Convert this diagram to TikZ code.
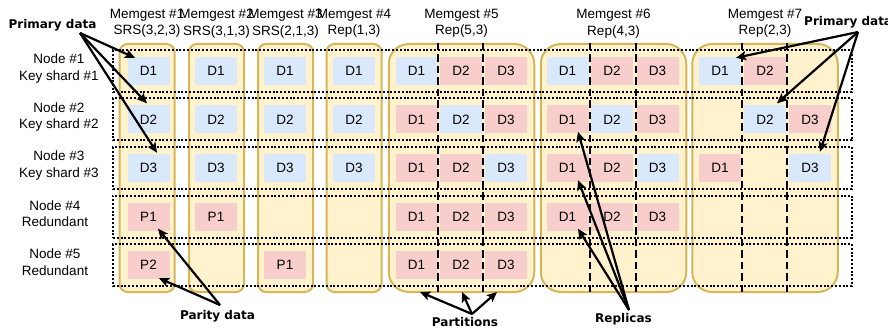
\documentclass[tikz,border=0pt]{standalone}
\usepackage{fontspec}
\setmainfont{Liberation Sans}
\newfontfamily\labelfont{DejaVu Sans}
\usetikzlibrary{arrows.meta}

\definecolor{pblue}{HTML}{DAE8FC}
\definecolor{pred}{HTML}{F8CECC}
\definecolor{cfill}{HTML}{FFF2CC}
\definecolor{cedge}{HTML}{D6B656}

\tikzset{
  txt/.style={font=\fontsize{13.5}{16.5}\selectfont, inner sep=0pt, align=center},
  note/.style={font=\labelfont\bfseries\fontsize{12}{14}\selectfont, inner sep=0pt},
  memgest/.style={draw=cedge, fill=cfill, line width=2pt, inner sep=0pt, minimum height=248pt},
  narrow/.style={memgest, minimum width=55pt, rounded corners=8pt},
  wide/.style={memgest, minimum width=145.5pt, rounded corners=20pt},
  cell/.style={txt, minimum width=42pt, minimum height=28pt},
  prim/.style={cell, fill=pblue},
  repl/.style={cell, fill=pred},
  rowbox/.style={draw=black, line width=2pt, dash pattern=on 2pt off 1.8pt,
                 minimum width=739pt, minimum height=42pt, inner sep=0pt},
  partline/.style={draw=black, line width=2.8pt, dash pattern=on 7.5pt off 4pt},
  pointer/.style={draw=black, line width=2.2pt, -{Stealth[length=10pt,width=9pt,inset=2pt]}}
}

\begin{document}
\begin{tikzpicture}[x=1pt, y=-1pt]
\useasboundingbox (0,0) rectangle (888,331);

% ---- memgest containers ----
\node[narrow] (m1) at (147,168) {};
\node[narrow] (m2) at (216.5,168) {};
\node[narrow] (m3) at (285.5,168) {};
\node[narrow] (m4) at (354,168) {};
\node[wide] (m5) at (461.5,168) {};
\node[wide] (m6) at (613.5,168) {};
\node[wide] (m7) at (765,168) {};

% ---- headers ----
\node[txt] (h1) at (147,23.5) {Memgest \#1\\SRS(3,2,3)};
\node[txt] (h2) at (216.5,23.5) {Memgest \#2\\SRS(3,1,3)};
\node[txt] (h3) at (285.5,23.5) {Memgest \#3\\SRS(2,1,3)};
\node[txt] (h4) at (354,23.5) {Memgest \#4\\Rep(1,3)};
\node[txt] (h5) at (461.5,23.5) {Memgest \#5\\Rep(5,3)};
\node[txt] (h6) at (613.5,23.5) {Memgest \#6\\Rep(4,3)};
\node[txt] (h7) at (765,23.5) {Memgest \#7\\Rep(2,3)};

% ---- node labels ----
\node[txt] (n1) at (59,68.5) {Node \#1\\Key shard \#1};
\node[txt] (n2) at (59,117) {Node \#2\\Key shard \#2};
\node[txt] (n3) at (59,165.5) {Node \#3\\Key shard \#3};
\node[txt] (n4) at (55,213.5) {Node \#4\\Redundant};
\node[txt] (n5) at (55,262) {Node \#5\\Redundant};

% ---- Memgest #1: SRS(3,2,3) ----
\node[prim] (c11) at (148.5,71) {D1};
\node[prim] (c12) at (148.5,119.5) {D2};
\node[prim] (c13) at (148.5,168) {D3};
\node[repl] (c14) at (148.5,216.5) {P1};
\node[repl] (c15) at (148.5,265) {P2};
% ---- Memgest #2: SRS(3,1,3) ----
\node[prim] (c21) at (216,71) {D1};
\node[prim] (c22) at (216,119.5) {D2};
\node[prim] (c23) at (216,168) {D3};
\node[repl] (c24) at (216,216.5) {P1};
% ---- Memgest #3: SRS(2,1,3) ----
\node[prim] (c31) at (285,71) {D1};
\node[prim] (c32) at (285,119.5) {D2};
\node[prim] (c33) at (285,168) {D3};
\node[repl] (c35) at (285,265) {P1};
% ---- Memgest #4: Rep(1,3) ----
\node[prim] (c41) at (354,71) {D1};
\node[prim] (c42) at (354,119.5) {D2};
\node[prim] (c43) at (354,168) {D3};

% ---- Memgest #5: Rep(5,3) ----
\node[prim] (c5a1) at (416.5,71) {D1};
\node[repl] (c5b1) at (461,71) {D2};
\node[repl] (c5c1) at (506,71) {D3};
\node[repl] (c5a2) at (416.5,119.5) {D1};
\node[prim] (c5b2) at (461,119.5) {D2};
\node[repl] (c5c2) at (506,119.5) {D3};
\node[repl] (c5a3) at (416.5,168) {D1};
\node[repl] (c5b3) at (461,168) {D2};
\node[prim] (c5c3) at (506,168) {D3};
\node[repl] (c5a4) at (416.5,216.5) {D1};
\node[repl] (c5b4) at (461,216.5) {D2};
\node[repl] (c5c4) at (506,216.5) {D3};
\node[repl] (c5a5) at (416.5,265) {D1};
\node[repl] (c5b5) at (461,265) {D2};
\node[repl] (c5c5) at (506,265) {D3};

% ---- Memgest #6: Rep(4,3) ----
\node[prim] (c6a1) at (567.5,71) {D1};
\node[repl] (c6b1) at (612,71) {D2};
\node[repl] (c6c1) at (657.5,71) {D3};
\node[repl] (c6a2) at (567.5,119.5) {D1};
\node[prim] (c6b2) at (612,119.5) {D2};
\node[repl] (c6c2) at (657.5,119.5) {D3};
\node[repl] (c6a3) at (567.5,168) {D1};
\node[repl] (c6b3) at (612,168) {D2};
\node[prim] (c6c3) at (657.5,168) {D3};
\node[repl] (c6a4) at (567.5,216.5) {D1};
\node[repl] (c6b4) at (612,216.5) {D2};
\node[repl] (c6c4) at (657.5,216.5) {D3};

% ---- Memgest #7: Rep(2,3) ----
\node[prim] (c7a1) at (720,71) {D1};
\node[repl] (c7b1) at (765,71) {D2};
\node[prim] (c7b2) at (765,119.5) {D2};
\node[repl] (c7c2) at (810,119.5) {D3};
\node[repl] (c7a3) at (720,168) {D1};
\node[prim] (c7c3) at (810,168) {D3};

% ---- partition boundaries ----
\foreach \px/\m in {438/m5, 483/m5, 590/m6, 636/m6, 742/m7, 787/m7}
  \draw[partline] (\px,0 |- \m.north) -- (\px,0 |- \m.south);

% ---- node rows (dotted) ----
\node[rowbox] (r1) at (482.5,71) {};
\node[rowbox] (r2) at (482.5,119.5) {};
\node[rowbox] (r3) at (482.5,168) {};
\node[rowbox] (r4) at (482.5,216.5) {};
\node[rowbox] (r5) at (482.5,265) {};

% ---- callouts ----
\node[note] (pdl) at (52.5,25) {Primary data};
\node[note, anchor=west] (pdr) at (804,22) {Primary data};
\node[note] (par) at (217.5,316) {Parity data};
\node[note] (prt) at (465,322) {Partitions};
\node[note] (rep) at (623.5,319) {Replicas};

\coordinate (pdlo) at (80,33);
\coordinate (pdro) at (858,32);
\coordinate (paro) at (220,305);
\coordinate (prto) at (472,314);
\coordinate (repo) at (629,310);

\draw[pointer] (pdlo) -- ([xshift=-13.5pt,yshift=-1pt]c11.north);
\draw[pointer] (pdlo) -- ([xshift=-1.5pt,yshift=2pt]c12.north);
\draw[pointer] (pdlo) -- ([xshift=8.5pt,yshift=1pt]c13.north);

\draw[pointer] (pdro) -- ([xshift=16pt,yshift=-1pt]c7a1.north);
\draw[pointer] (pdro) -- ([xshift=12pt,yshift=2pt]c7b2.north);
\draw[pointer] (pdro) -- ([xshift=10pt,yshift=2pt]c7c3.north);

\draw[pointer] (paro) -- ([xshift=9.5pt,yshift=2pt]c14.south);
\draw[pointer] (paro) -- ([xshift=10.5pt,yshift=1pt]c15.south);

\draw[pointer] (prto) -- ([xshift=-41.5pt,yshift=1pt]m5.south);
\draw[pointer] (prto) -- ([xshift=0.5pt,yshift=1pt]m5.south);
\draw[pointer] (prto) -- ([xshift=35.5pt,yshift=1pt]m5.south);

\draw[pointer] (repo) -- ([xshift=10.5pt,yshift=2pt]c6a2.south);
\draw[pointer] (repo) -- ([xshift=10.5pt,yshift=2pt]c6a3.south);
\draw[pointer] (repo) -- ([xshift=10.5pt,yshift=2pt]c6a4.south);
\end{tikzpicture}
\end{document}
